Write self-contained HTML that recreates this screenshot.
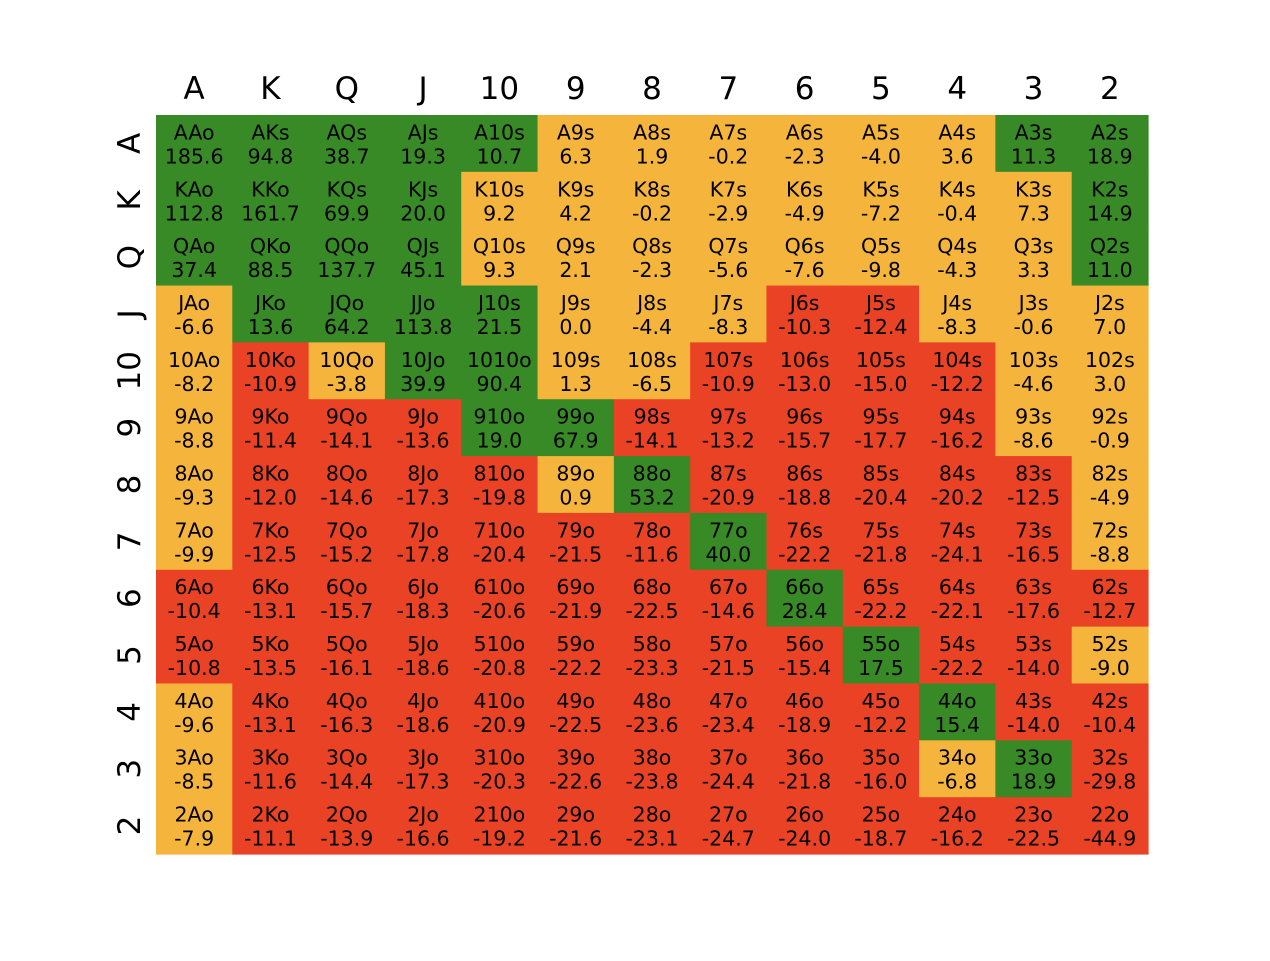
<!DOCTYPE html>
<html><head><meta charset="utf-8">
<style>
html,body{margin:0;padding:0;background:#fff;}
svg text{font-family:"DejaVu Sans","Liberation Sans",sans-serif;}
</style></head>
<body>
<svg id="chart" width="1270" height="956" xmlns="http://www.w3.org/2000/svg"></svg>
<script>
const ranks = ["A","K","Q","J","10","9","8","7","6","5","4","3","2"];
const rowA = [185.6,94.8,38.7,19.3,10.7,6.3,1.9,-0.2,-2.3,-4.0,3.6,11.3,18.9];
const rowK = [112.8,161.7,69.9,20.0,9.2,4.2,-0.2,-2.9,-4.9,-7.2,-0.4,7.3,14.9];
const rowQ = [37.4,88.5,137.7,45.1,9.3,2.1,-2.3,-5.6,-7.6,-9.8,-4.3,3.3,11.0];
const rowJ = [-6.6,13.6,64.2,113.8,21.5,0.0,-4.4,-8.3,-10.3,-12.4,-8.3,-0.6,7.0];
const row10 = [-8.2,-10.9,-3.8,39.9,90.4,1.3,-6.5,-10.9,-13.0,-15.0,-12.2,-4.6,3.0];
const row9 = [-8.8,-11.4,-14.1,-13.6,19.0,67.9,-14.1,-13.2,-15.7,-17.7,-16.2,-8.6,-0.9];
const row8 = [-9.3,-12.0,-14.6,-17.3,-19.8,0.9,53.2,-20.9,-18.8,-20.4,-20.2,-12.5,-4.9];
const row7 = [-9.9,-12.5,-15.2,-17.8,-20.4,-21.5,-11.6,40.0,-22.2,-21.8,-24.1,-16.5,-8.8];
const row6 = [-10.4,-13.1,-15.7,-18.3,-20.6,-21.9,-22.5,-14.6,28.4,-22.2,-22.1,-17.6,-12.7];
const row5 = [-10.8,-13.5,-16.1,-18.6,-20.8,-22.2,-23.3,-21.5,-15.4,17.5,-22.2,-14.0,-9.0];
const row4 = [-9.6,-13.1,-16.3,-18.6,-20.9,-22.5,-23.6,-23.4,-18.9,-12.2,15.4,-14.0,-10.4];
const row3 = [-8.5,-11.6,-14.4,-17.3,-20.3,-22.6,-23.8,-24.4,-21.8,-16.0,-6.8,18.9,-29.8];
const row2 = [-7.9,-11.1,-13.9,-16.6,-19.2,-21.6,-23.1,-24.7,-24.0,-18.7,-16.2,-22.5,-44.9];
const values = [rowA,rowK,rowQ,rowJ,row10,row9,row8,row7,row6,row5,row4,row3,row2];

const X0=156,X1=1148,Y0=115,Y1=854;
const cw=(X1-X0)/ranks.length, ch=(Y1-Y0)/ranks.length;
const xPos=c=>X0+c*cw, yPos=r=>Y0+r*ch;
const color=v=>v>10?"#378a25":(v< -10?"#ea4225":"#f5b43c");
const NS="http://www.w3.org/2000/svg";
const svg=document.getElementById("chart");
function mk(tag,attrs,parent){const e=document.createElementNS(NS,tag);for(const k in attrs)e.setAttribute(k,attrs[k]);(parent||svg).appendChild(e);return e;}

const cells=mk("g",{});


values.forEach((row,r)=>row.forEach((v,c)=>{
  const g=mk("g",{},cells);
  const name=ranks[r]+ranks[c]+(c>r?"s":"o");
  
  
  mk("rect",{x:xPos(c),y:yPos(r),width:cw+0.6,height:ch+0.6,fill:color(v)},g);
  const cx=xPos(c)+cw/2, cy=yPos(r)+ch/2;
  const t1=mk("text",{x:cx,y:cy-4,"text-anchor":"middle","font-size":"20.5",fill:"#000"},g);
  t1.textContent=name;
  const t2=mk("text",{x:cx,y:cy+20,"text-anchor":"middle","font-size":"20.5",fill:"#000"},g);
  t2.textContent=v.toFixed(1);
}));

const xt=mk("g",{});


ranks.forEach((rk,c)=>{
  const t=mk("text",{x:xPos(c)+cw/2,y:99,"text-anchor":"middle","font-size":"31",fill:"#000"},xt);
  
  
  t.textContent=rk;
});
const yt=mk("g",{});


ranks.forEach((rk,r)=>{
  const cy=yPos(r)+ch/2;
  const t=mk("text",{x:0,y:0,"text-anchor":"middle","font-size":"31",fill:"#000",transform:`translate(140,${cy}) rotate(-90)`},yt);
  
  
  t.textContent=rk;
});
</script>
</body></html>
